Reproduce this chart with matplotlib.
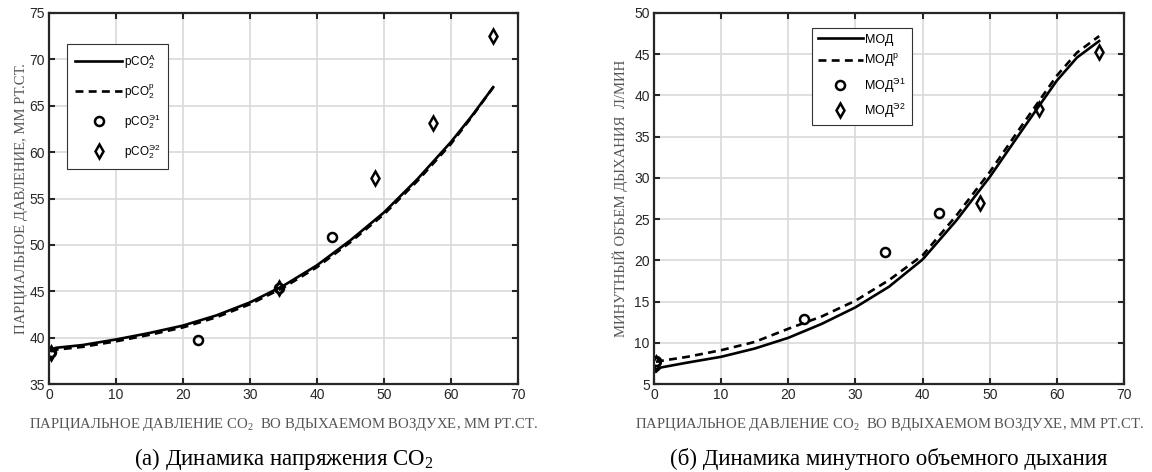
import matplotlib
matplotlib.use("Agg")
import matplotlib.pyplot as plt

# ---- data ----
x_line_a = [0.3, 1, 5, 10, 15, 20, 25, 30, 35, 40, 45, 50, 55, 60, 63, 66.3]
pco2_a = [38.6, 38.9, 39.2, 39.8, 40.5, 41.3, 42.4, 43.8, 45.6, 47.8, 50.5, 53.5, 57.1, 61.1, 63.8, 67.0]
pco2_p = [38.5, 38.7, 39.0, 39.6, 40.3, 41.1, 42.2, 43.6, 45.4, 47.6, 50.3, 53.3, 56.9, 60.9, 63.7, 67.0]
x_e1_a = [0.3, 22.3, 34.4, 42.3]
pco2_e1 = [38.5, 39.7, 45.4, 50.8]
x_e2_a = [0.3, 34.4, 48.7, 57.3, 66.3]
pco2_e2 = [38.3, 45.3, 57.2, 63.1, 72.5]

x_line_b = [0.3, 1, 5, 10, 15, 20, 25, 30, 35, 40, 45, 50, 55, 60, 63, 66.3]
mod = [6.5, 7.0, 7.6, 8.3, 9.3, 10.6, 12.3, 14.3, 16.8, 20.1, 24.8, 30.1, 36.0, 41.8, 44.6, 46.6]
mod_p = [7.7, 7.8, 8.3, 9.1, 10.1, 11.7, 13.2, 15.1, 17.6, 20.6, 25.4, 30.7, 36.6, 42.4, 45.2, 47.2]
x_e1_b = [0.3, 22.3, 34.4, 42.4]
mod_e1 = [7.8, 12.9, 21.0, 25.8]
x_e2_b = [0.3, 48.6, 57.4, 66.3]
mod_e2 = [7.6, 26.9, 38.4, 45.3]

xticks = list(range(0, 71, 10))
yticks_a = list(range(35, 76, 5))
yticks_b = list(range(5, 51, 5))

xlabel = "ПАРЦИАЛЬНОЕ ДАВЛЕНИЕ CO$_\\mathregular{2}$  ВО ВДЫХАЕМОМ ВОЗДУХЕ, ММ РТ.СТ."
ylabel_a = "ПАРЦИАЛЬНОЕ ДАВЛЕНИЕ, ММ РТ.СТ."
ylabel_b = "МИНУТНЫЙ ОБЪЕМ ДЫХАНИЯ  Л/МИН"
caption_a = "(а) Динамика напряжения CO$_\\mathregular{2}$"
caption_b = "(б) Динамика минутного объемного дыхания"

labels_a = ["pCO$_\\mathregular{2}^\\mathregular{A}$", "pCO$_\\mathregular{2}^\\mathregular{р}$",
            "pCO$_\\mathregular{2}^\\mathregular{Э1}$", "pCO$_\\mathregular{2}^\\mathregular{Э2}$"]
labels_b = ["МОД", "МОД$^\\mathregular{р}$", "МОД$^\\mathregular{Э1}$", "МОД$^\\mathregular{Э2}$"]

plt.rcParams["font.family"] = ["Liberation Sans", "DejaVu Sans"]
axcol = "#262626"
serif = ["Liberation Serif", "DejaVu Serif"]

fig = plt.figure(figsize=(11.52, 4.72), dpi=100)
ax1 = fig.add_axes([49 / 1152, 88 / 472, 469 / 1152, 371 / 472])
ax2 = fig.add_axes([654 / 1152, 88 / 472, 470 / 1152, 371 / 472])


def style(ax, yticks, ylab, lab_x):
    ax.set_xlim(0, 70)
    ax.set_ylim(yticks[0], yticks[-1])
    ax.set_xticks(xticks)
    ax.set_yticks(yticks)
    ax.grid(True, color="#d9d9d9", linewidth=1.2)
    ax.set_axisbelow(True)
    ax.tick_params(direction="in", length=4, width=1.5, top=True, right=True,
                   colors=axcol, labelsize=10, pad=3)
    for s in ax.spines.values():
        s.set_linewidth(1.6)
        s.set_color(axcol)
    ax.set_xlabel(xlabel, family=serif, fontsize=10.6, color="#555555")
    ax.xaxis.set_label_coords(0.5, -0.085)
    ax.set_ylabel(ylab, family=serif, fontsize=10.6, color="#555555")
    ax.yaxis.set_label_coords(lab_x, 0.5)


ax1.plot(x_line_a, pco2_a, "-", color="k", lw=1.9, label=labels_a[0])
ax1.plot(x_line_a, pco2_p, "--", color="k", lw=1.9, dashes=(3, 2), label=labels_a[1])
ax1.plot(x_e1_a, pco2_e1, "o", ms=6.5, mfc="none", mec="k", mew=1.8, label=labels_a[2])
ax1.plot(x_e2_a, pco2_e2, "d", ms=7.5, mfc="none", mec="k", mew=1.8, label=labels_a[3])
style(ax1, yticks_a, ylabel_a, -0.045)
leg1 = ax1.legend(loc="upper left", bbox_to_anchor=(18 / 469, 1 - 31 / 371), fontsize=8.5,
                  handlelength=4.0, labelspacing=0.95, fancybox=False, framealpha=1,
                  edgecolor="#333333", borderpad=0.7, handletextpad=0.1, borderaxespad=0)
leg1.get_frame().set_linewidth(0.8)

ax2.plot(x_line_b, mod, "-", color="k", lw=1.9, label=labels_b[0])
ax2.plot(x_line_b, mod_p, "--", color="k", lw=1.9, dashes=(3, 2), label=labels_b[1])
ax2.plot(x_e1_b, mod_e1, "o", ms=6.5, mfc="none", mec="k", mew=1.8, label=labels_b[2])
ax2.plot(x_e2_b, mod_e2, "d", ms=7.5, mfc="none", mec="k", mew=1.8, label=labels_b[3])
style(ax2, yticks_b, ylabel_b, -0.055)
leg2 = ax2.legend(loc="upper left", bbox_to_anchor=(158 / 470, 1 - 15 / 371), fontsize=9,
                  handlelength=3.6, labelspacing=0.55, fancybox=False, framealpha=1,
                  edgecolor="#333333", borderpad=0.45, handletextpad=0.15, borderaxespad=0)
leg2.get_frame().set_linewidth(0.8)

fig.text((49 + 469 / 2) / 1152, 0.028, caption_a, family=serif, fontsize=16.5,
         ha="center", va="center")
fig.text((654 + 470 / 2) / 1152, 0.028, caption_b, family=serif, fontsize=16.5,
         ha="center", va="center")

fig.savefig("out.png", dpi=100)
